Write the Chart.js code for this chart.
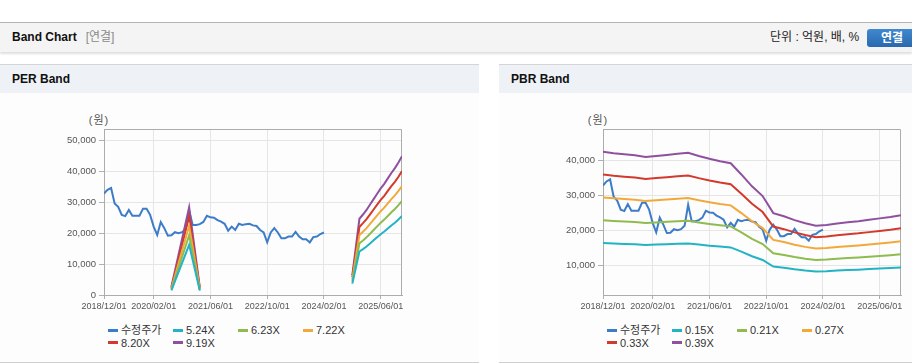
<!DOCTYPE html>
<html><head><meta charset="utf-8">
<script src="https://cdn.jsdelivr.net/npm/chart.js@4"></script>
<style>
html,body{margin:0;padding:0;width:912px;height:364px;overflow:hidden;background:#fff;font-family:"Liberation Sans","Noto Sans CJK KR",sans-serif;}
.topbar{position:absolute;left:0;top:22px;width:912px;height:29px;border-top:1px solid #b4b4b4;background:#f4f4f4;box-shadow:0 2px 2px rgba(0,0,0,0.13);}
.title{position:absolute;left:12px;top:0;line-height:29px;font-size:12px;font-weight:bold;color:#111;}
.title span{font-weight:normal;color:#8a8a8a;margin-left:9px;}
.unit{position:absolute;left:770px;top:0;line-height:29px;font-size:12px;color:#222;white-space:nowrap;}
.btn{position:absolute;left:867px;top:6px;width:52px;height:18px;border-radius:3px;background:linear-gradient(#4089cf,#2a68ae);color:#fff;font-weight:bold;font-size:12px;line-height:18px;text-align:center;text-indent:-2px;}
.panel{position:absolute;top:64px;height:297px;border-top:1px solid #d4d4d4;border-bottom:1px solid #cfcfcf;background:#fdfdfd;}
.phead{height:28px;background:#eef2f7;font-weight:bold;font-size:12px;line-height:29px;padding-left:12px;color:#111;}
canvas{position:absolute;}
.unitlbl{position:absolute;width:26px;text-align:center;font-size:11px;color:#555;top:111px;letter-spacing:1px;}
.legend{position:absolute;top:324px;width:270px;font-size:11px;color:#333;}
.legend .it{display:inline-block;width:65px;height:12.6px;line-height:12.6px;white-space:nowrap;vertical-align:top;}
.legend .mk{display:inline-block;width:10px;height:3px;vertical-align:middle;margin-right:3px;position:relative;top:-1px;}
</style>
</head><body>
<div class="topbar"><div class="title">Band Chart<span>[연결]</span></div><div class="unit">단위 : 억원, 배, %</div><div class="btn">연결</div></div>
<div class="panel" style="left:0;width:479px"><div class="phead">PER Band</div></div>
<div class="panel" style="left:499px;width:413px"><div class="phead">PBR Band</div></div>
<div class="unitlbl" style="left:86px">(원)</div>
<div class="unitlbl" style="left:585px">(원)</div>
<canvas id="per" width="478" height="225" style="left:0;top:93px"></canvas>
<canvas id="pbr" width="413" height="225" style="left:499px;top:93px"></canvas>
<div class="legend" id="perLegend" style="left:108px"></div>
<div class="legend" id="pbrLegend" style="left:607px"></div>
<script>
// x axis: month index from 2018/12 (0) to 2025/12 (84)
const xTickMonths = [0, 14, 30, 46, 62, 78];
const xTickLabels = ['2018/12/01','2020/02/01','2021/06/01','2022/10/01','2024/02/01','2025/06/01'];

// 수정주가 (monthly, month 0..62)
const price = [32800,34000,34600,29600,28500,25900,25500,27500,25600,25600,25600,27900,27900,25900,22100,19400,23600,21600,19200,19300,
20300,20000,20300,21300,27300,22600,22600,22900,23600,25600,25100,25000,24200,23700,23000,20800,22100,21000,23000,22600,
22900,23000,22500,22300,21000,20200,17000,20200,21600,20200,18300,18300,18900,18900,20400,18900,18000,18000,17000,18700,
18900,19700,20200];

// PER band
const perLabels = ['5.24X','6.23X','7.22X','8.20X','9.19X'];
const perMonths = [19,24,27,70,72,73,74,75,76,77,78,79,80,81,82,83,84];
const per524 = [1520,16190,1415,3670,14040,14830,15670,16660,17660,18650,19650,20490,21480,22480,23370,24420,25570];
const per623 = [1807,19250,1682,4360,16700,17630,18630,19810,21000,22180,23360,24360,25540,26730,27790,29030,30400];
const per722 = [2094,22310,1949,5050,19350,20430,21590,22960,24330,25700,27080,28230,29600,30970,32200,33650,35230];
const per820 = [2378,25340,2214,5740,21980,23210,24520,26080,27630,29190,30750,32060,33620,35180,36570,38210,40020];
const per919 = [2665,28400,2481,6430,24630,26010,27480,29220,30970,32720,34460,35930,37680,39430,40990,42830,44850];
const perYTicks = [0,10000,20000,30000,40000,50000];

// PBR band
const pbrLabels = ['0.15X','0.21X','0.27X','0.33X','0.39X'];
const pbrMonths = [0,3,6,9,12,15,18,21,24,27,30,33,36,39,42,45,48,51,54,57,60,63,66,69,72,75,78,81,84];
const pbr015 = [16340,16190,16080,15960,15770,15890,16000,16120,16230,15890,15580,15310,15080,13850,12540,11460,9580,9230,8810,8460,8190,8270,8420,8580,8690,8850,9000,9150,9350];
const pbr021 = [22870,22670,22510,22350,22080,22240,22400,22560,22720,22240,21810,21430,21110,19390,17550,16050,13410,12920,12330,11850,11470,11580,11790,12010,12170,12390,12600,12820,13090];
const pbr027 = [29410,29150,28940,28730,28390,28590,28800,29010,29220,28590,28040,27550,27140,24920,22570,20630,17240,16620,15850,15230,14750,14890,15160,15440,15650,15920,16200,16480,16820];
const pbr033 = [35950,35620,35370,35120,34690,34950,35200,35450,35710,34950,34270,33680,33170,30460,27580,25220,21070,20310,19380,18620,18020,18190,18530,18870,19120,19460,19800,20140,20560];
const pbr039 = [42480,42100,41800,41500,41000,41300,41600,41900,42200,41300,40500,39800,39200,36000,32600,29800,24900,24000,22900,22000,21300,21500,21900,22300,22600,23000,23400,23800,24300];
const pbrYTicks = [10000,20000,30000,40000];

const seriesName = '수정주가';
const colors = ['#3d7cc9','#22b3c4','#8fbb4f','#f2a93b','#d23a2d','#9050a0'];

const FONT = '"Liberation Sans","Noto Sans CJK KR",sans-serif';

const boxPlugin = {
  id:'box',
  beforeDatasetsDraw(chart){
    const {ctx, chartArea:a} = chart;
    ctx.save();
    ctx.strokeStyle = '#acacac';
    ctx.lineWidth = 1;
    ctx.beginPath();
    ctx.moveTo(Math.round(a.left)+0.5, Math.round(a.top)+0.5);
    ctx.lineTo(Math.round(a.right)-0.5, Math.round(a.top)+0.5);
    ctx.lineTo(Math.round(a.right)-0.5, Math.round(a.bottom));
    ctx.stroke();
    ctx.restore();
  }
};

function pts(xs, ys){ return ys.map((v,i)=>({x:xs[i], y:v})); }

function build(id, bandMonths, bands, bandLabels, yMin, yMax, yTicks, padRight){
  const priceMonths = price.map((v,i)=>i);
  const datasets = [{label:seriesName, data:pts(priceMonths, price), borderColor:colors[0], backgroundColor:colors[0], order:1}];
  bands.forEach((b,i)=>datasets.push({label:bandLabels[i], data:pts(bandMonths,b), borderColor:colors[i+1], backgroundColor:colors[i+1], order:0}));
  return new Chart(document.getElementById(id), {
    type:'line',
    data:{datasets},
    options:{
      animation:false, responsive:false, devicePixelRatio:1,
      spanGaps:10,
      layout:{padding:{left:44,right:padRight,top:36,bottom:3}},
      elements:{point:{radius:0,hoverRadius:0}, line:{tension:0,borderWidth:2,fill:false}},
      plugins:{legend:{display:false}, tooltip:{enabled:false}},
      scales:{
        x:{type:'linear', min:0, max:84,
          afterBuildTicks:s=>{s.ticks = xTickMonths.map(v=>({value:v}));},
          afterFit:s=>{s.height=20;},
          ticks:{autoSkip:false, maxRotation:0, padding:2, color:'#555', font:{size:9, family:FONT},
            callback:v=>xTickLabels[xTickMonths.indexOf(v)]},
          grid:{color:'#e6e6e6', tickColor:'#b0b0b0', tickLength:4},
          border:{color:'#acacac'}},
        y:{min:yMin, max:yMax,
          afterBuildTicks:s=>{s.ticks = yTicks.map(v=>({value:v}));},
          afterFit:s=>{s.width=60;},
          ticks:{padding:3, color:'#555', font:{size:9.5, family:FONT},
            callback:v=>Number(v).toLocaleString('en-US')},
          grid:{color:'#e6e6e6', tickColor:'#b0b0b0', tickLength:5},
          border:{color:'#acacac'}}
      }
    },
    plugins:[boxPlugin]
  });
}

function legend(chart, el){
  chart.data.datasets.forEach(d=>{
    const it = document.createElement('span'); it.className='it';
    const mk = document.createElement('span'); mk.className='mk'; mk.style.background=d.borderColor;
    it.appendChild(mk); it.appendChild(document.createTextNode(d.label));
    el.appendChild(it);
  });
}

const perChart = build('per', perMonths, [per524,per623,per722,per820,per919], perLabels, 0, 53640, perYTicks, 76);
const pbrChart = build('pbr', pbrMonths, [pbr015,pbr021,pbr027,pbr033,pbr039], pbrLabels, 1430, 49030, pbrYTicks, 11);
legend(perChart, document.getElementById('perLegend'));
legend(pbrChart, document.getElementById('pbrLegend'));
</script>
</body></html>
